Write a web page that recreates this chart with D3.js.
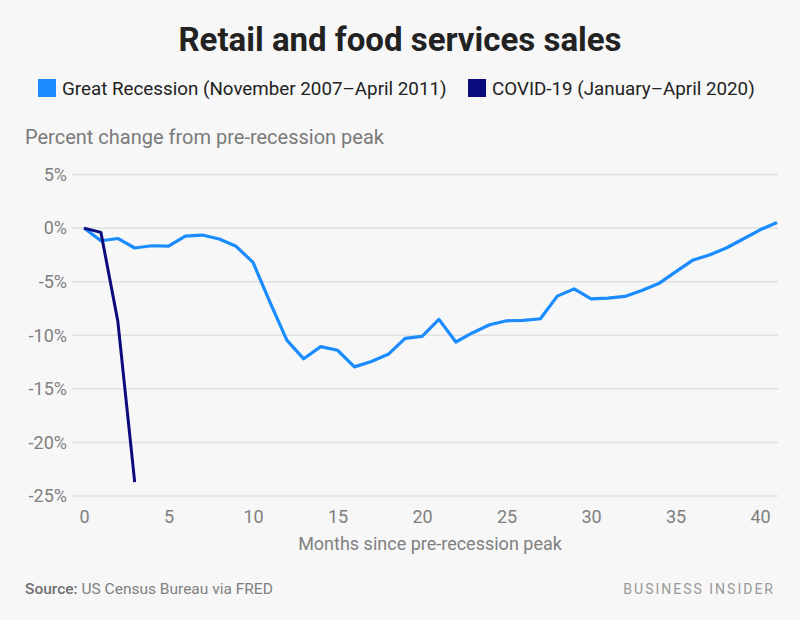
<!DOCTYPE html>
<html>
<head>
<meta charset="utf-8">
<script src="https://cdn.jsdelivr.net/npm/d3@7"></script>
<style>
  html, body { margin: 0; padding: 0; background: #f7f7f7; }
  svg { display: block; }
</style>
</head>
<body>
<script>
// ---- Data ----
const greatRecessionMonths = d3.range(0, 42);
const greatRecessionValues = [
  0, -1.18, -0.97, -1.86, -1.65, -1.68, -0.75, -0.65, -1.02, -1.7,
  -3.2, -6.9, -10.45, -12.2, -11.06, -11.4, -12.95, -12.45, -11.78, -10.29,
  -10.1, -8.52, -10.63, -9.76, -9.02, -8.65, -8.62, -8.46, -6.35, -5.67,
  -6.6, -6.54, -6.38, -5.83, -5.18, -4.09, -3.01, -2.51, -1.86, -1.02,
  -0.16, 0.52
];
const covidMonths = [0, 1, 2, 3];
const covidValues = [0, -0.4, -8.68, -23.7];
const yTickValues = [5, 0, -5, -10, -15, -20, -25];
const xTickValues = [0, 5, 10, 15, 20, 25, 30, 35, 40];
const seriesNames = ["Great Recession (November 2007\u2013April 2011)", "COVID-19 (January\u2013April 2020)"];
const seriesColors = ["#1a8cff", "#0a0a7d"];

const W = 800, H = 620;
const FONT = "Roboto, 'Open Sans', sans-serif";

const svg = d3.select("body").append("svg").attr("width", W).attr("height", H);
svg.append("rect").attr("width", W).attr("height", H).attr("fill", "#f7f7f7");

// Title
svg.append("text").attr("x", 400).attr("y", 51).attr("text-anchor", "middle")
  .attr("font-family", FONT).attr("font-weight", 700).attr("font-size", 33)
  .attr("fill", "#222").text("Retail and food services sales");

// Legend
const legend = svg.append("g");
const legendX = [38, 468];
seriesNames.forEach((n, i) => {
  const g = legend.append("g").attr("transform", `translate(${legendX[i]},79)`);
  g.append("rect").attr("width", 18).attr("height", 18).attr("fill", seriesColors[i]);
  g.append("text").attr("x", 24).attr("y", 16).attr("font-family", FONT).attr("font-size", 18.8)
    .attr("fill", "#222").text(n);
});

// Y axis title
svg.append("text").attr("x", 25).attr("y", 144).attr("font-family", FONT).attr("font-size", 20)
  .attr("fill", "#7a7a7a").text("Percent change from pre-recession peak");

// Scales
const x = d3.scaleLinear().domain([0, 41]).range([84, 777]);
const y = d3.scaleLinear().domain([5, -25]).range([174.5, 496]);

// Gridlines
svg.append("g").selectAll("line").data(yTickValues).join("line")
  .attr("x1", 72).attr("x2", 778)
  .attr("y1", d => y(d)).attr("y2", d => y(d))
  .attr("stroke", "#e0e0e0").attr("stroke-width", 1.5);

// Y axis labels
const yAxis = svg.append("g").attr("transform", "translate(67,0)")
  .call(d3.axisLeft(y).tickValues(yTickValues).tickSize(0).tickPadding(0).tickFormat(d => d + "%"));
yAxis.select(".domain").remove();
yAxis.selectAll("text").attr("font-family", FONT).attr("font-size", 18).attr("fill", "#808080");

// X axis labels
const xAxis = svg.append("g").attr("transform", "translate(0,510)")
  .call(d3.axisBottom(x).tickValues(xTickValues).tickSize(0).tickPadding(0));
xAxis.select(".domain").remove();
xAxis.selectAll("text").attr("font-family", FONT).attr("font-size", 18).attr("fill", "#808080");

// X axis title
svg.append("text").attr("x", 430).attr("y", 550).attr("text-anchor", "middle")
  .attr("font-family", FONT).attr("font-size", 18).attr("fill", "#808080")
  .text("Months since pre-recession peak");

// Lines
const line = d3.line().x(d => x(d[0])).y(d => y(d[1]));
svg.append("path").datum(greatRecessionMonths.map((m, i) => [m, greatRecessionValues[i]]))
  .attr("d", line).attr("fill", "none").attr("stroke", seriesColors[0])
  .attr("stroke-width", 3.2).attr("stroke-linejoin", "round");
svg.append("path").datum(covidMonths.map((m, i) => [m, covidValues[i]]))
  .attr("d", line).attr("fill", "none").attr("stroke", seriesColors[1])
  .attr("stroke-width", 3).attr("stroke-linejoin", "round");

// Footer
const src = svg.append("text").attr("x", 25).attr("y", 594).attr("font-family", FONT).attr("font-size", 15.5)
  .attr("fill", "#808080");
src.append("tspan").attr("font-weight", 500).attr("fill", "#707070").text("Source: ");
src.append("tspan").text("US Census Bureau via FRED");

svg.append("text").attr("x", 775).attr("y", 594).attr("text-anchor", "end")
  .attr("font-family", FONT).attr("font-size", 14).attr("letter-spacing", 2)
  .attr("fill", "#999").text("BUSINESS INSIDER");
</script>
</body>
</html>
